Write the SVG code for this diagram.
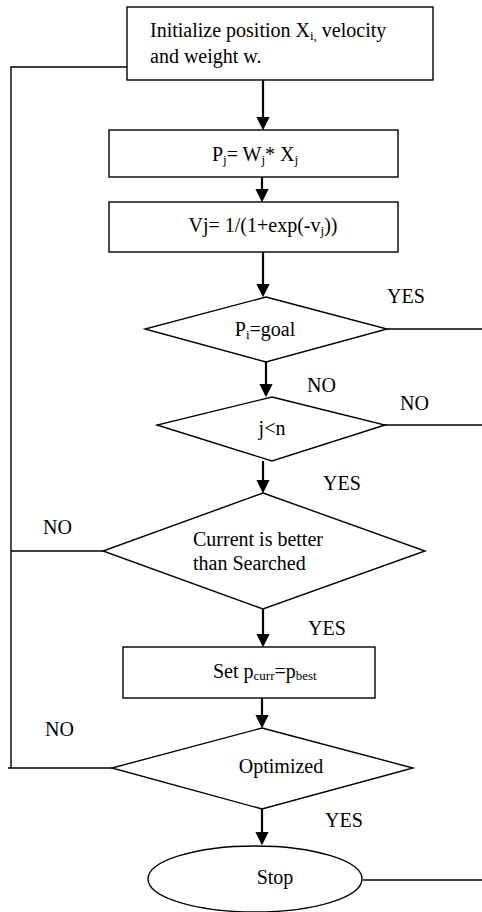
<svg xmlns="http://www.w3.org/2000/svg" width="482" height="912" viewBox="0 0 482 912">
<style>
.shape{fill:#fff;stroke:#000;stroke-width:1.4}
.line{fill:none;stroke:#000;stroke-width:1.4}
.arrow{fill:none;stroke:#000;stroke-width:2.2}
text{font-family:"Liberation Serif","DejaVu Serif","Times New Roman",serif;font-size:20px;fill:#000}
.sub{font-size:13px}
.sm{font-size:18px}
</style>
<defs>
<marker id="ah" markerWidth="6" markerHeight="6" refX="5" refY="3" orient="auto" markerUnits="strokeWidth">
<path d="M0,0 L6,3 L0,6 Z" fill="#000"/>
</marker>
</defs>
<rect width="482" height="912" fill="#fff"/>
<g id="connectors">
<path class="arrow" d="M263,80 V128" marker-end="url(#ah)"/>
<path class="arrow" d="M262,177 V200" marker-end="url(#ah)"/>
<path class="arrow" d="M263,252 V295" marker-end="url(#ah)"/>
<path class="arrow" d="M266,362 V395" marker-end="url(#ah)"/>
<path class="arrow" d="M263,461 V491" marker-end="url(#ah)"/>
<path class="arrow" d="M263,609 V645" marker-end="url(#ah)"/>
<path class="arrow" d="M262,698 V726" marker-end="url(#ah)"/>
<path class="arrow" d="M262,809 V843" marker-end="url(#ah)"/>
<path class="line" d="M127,67 H11 V768"/>
<path class="line" d="M8,768 H112"/>
<path class="line" d="M11,551 H103"/>
<path class="line" d="M387,329 H482"/>
<path class="line" d="M380,425 H482"/>
<path class="line" d="M363,880 H482"/>
<text x="387" y="303">YES</text>
<text x="307" y="392">NO</text>
<text x="400" y="410">NO</text>
<text x="323" y="490">YES</text>
<text x="43" y="534">NO</text>
<text x="308" y="635">YES</text>
<text x="45" y="736">NO</text>
<text x="325" y="827">YES</text>
</g>
<g id="init">
<rect class="shape" x="127" y="7" width="306" height="73"/>
<text x="150" y="37">Initialize position X<tspan class="sub" dy="3">i,</tspan><tspan dy="-3"> velocity</tspan></text>
<text x="150" y="63">and weight w.</text>
</g>
<g id="pj">
<rect class="shape" x="109" y="130" width="289" height="47"/>
<text x="255" y="161" text-anchor="middle">P<tspan class="sub" dy="3">j</tspan><tspan dy="-3">= W</tspan><tspan class="sub" dy="3">j</tspan><tspan dy="-3">* X</tspan><tspan class="sub" dy="3">j</tspan></text>
</g>
<g id="vj">
<rect class="shape" x="109" y="202" width="289" height="50"/>
<text x="263" y="232" text-anchor="middle">Vj= 1/(1+exp(-v<tspan class="sub" dy="3">j</tspan><tspan dy="-3">))</tspan></text>
</g>
<g id="goal">
<polygon class="shape" points="266,297 387,329 266,362 145,329"/>
<text x="265" y="336" text-anchor="middle">P<tspan class="sub" dy="3">i</tspan><tspan dy="-3">=goal</tspan></text>
</g>
<g id="jn">
<polygon class="shape" points="272,397 385,425 272,461 157,425"/>
<text x="272" y="435" text-anchor="middle">j&lt;n</text>
</g>
<g id="better">
<polygon class="shape" points="263,493 425,551 263,609 103,551"/>
<text x="193" y="546">Current is better</text>
<text x="193" y="570">than Searched</text>
</g>
<g id="set">
<rect class="shape" x="123" y="647" width="252" height="51"/>
<text x="213" y="678">Set p<tspan class="sub" dy="2">curr</tspan><tspan dy="-2">=p</tspan><tspan class="sub" dy="2">best</tspan></text>
</g>
<g id="optimized">
<polygon class="shape" points="262,728 413,768 262,809 112,768"/>
<text x="281" y="773" text-anchor="middle">Optimized</text>
</g>
<g id="stop">
<ellipse class="shape" cx="255" cy="879" rx="107" ry="33"/>
<text x="275" y="884" text-anchor="middle">Stop</text>
</g>
</svg>
